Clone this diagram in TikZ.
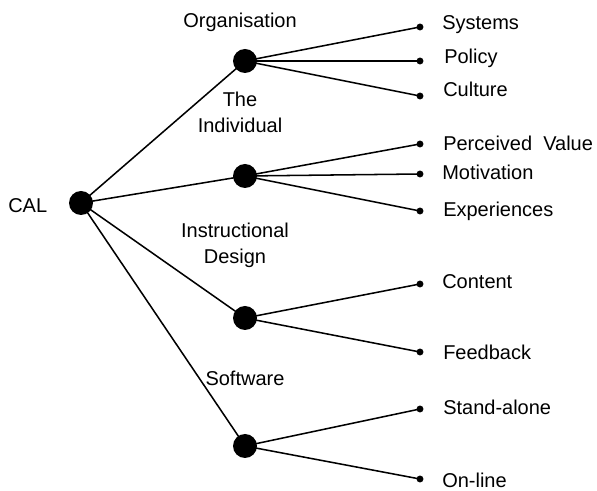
\documentclass[tikz,border=0pt]{standalone}
\usepackage{fontspec}
\setmainfont{Liberation Sans}
\usepackage{tikz}

\begin{document}
\begin{tikzpicture}[x=0.75pt,y=0.75pt,yscale=-1,xscale=1,
  hub/.style={circle,fill=black,inner sep=0pt,minimum size=18pt},
  leaf/.style={circle,fill=black,inner sep=0pt,minimum size=5.2pt},
  lbl/.style={inner sep=0pt,font=\fontsize{15}{19.5}\selectfont},
  branch/.style={line width=1.15pt}]

\useasboundingbox (0,0) rectangle (597,491);

% Hubs
\node [hub] (cal) at (81,203) {};
\node [hub] (org) at (245,61) {};
\node [hub] (ind) at (245,176) {};
\node [hub] (des) at (245,318) {};
\node [hub] (sw) at (245,446) {};

% Leaf dots
\node [leaf] (sys) at (420,27) {};
\node [leaf] (pol) at (420,61) {};
\node [leaf] (cul) at (420,96) {};
\node [leaf] (val) at (420,144) {};
\node [leaf] (mot) at (420,174) {};
\node [leaf] (exp) at (420,211) {};
\node [leaf] (con) at (420,284) {};
\node [leaf] (fee) at (420,352) {};
\node [leaf] (sta) at (420,409) {};
\node [leaf] (onl) at (420,479) {};

% Text Node
\node [lbl,anchor=base west] (calt) at (8,213) {CAL};
\node [lbl,anchor=base] (orgt) at (240,28) {Organisation};
\node [lbl,anchor=base,align=center] (indt) at (240,133) {The\\Individual};
\node [lbl,anchor=base,align=center] (dest) at (235,264) {Instructional\\Design};
\node [lbl,anchor=base] (swt) at (245,386) {Software};

\node [lbl,anchor=base west] (syst) at (442,30) {Systems};
\node [lbl,anchor=base west] (polt) at (444,64) {Policy};
\node [lbl,anchor=base west] (cult) at (443,97) {Culture};
\node [lbl,anchor=base west] (valt) at (443,151) {Perceived\ \ Value};
\node [lbl,anchor=base west] (mott) at (442,180) {Motivation};
\node [lbl,anchor=base west] (expt) at (443,217) {Experiences};
\node [lbl,anchor=base west] (cont) at (442,289) {Content};
\node [lbl,anchor=base west] (feet) at (443,360) {Feedback};
\node [lbl,anchor=base west] (stat) at (443,415) {Stand-alone};
\node [lbl,anchor=base west] (onlt) at (442,488) {On-line};

% Branches
\foreach \h in {org,ind,des,sw}
  \draw [branch] (cal.center) -- (\h.center);
\foreach \l in {sys,pol,cul}
  \draw [branch] (org.center) -- (\l.center);
\foreach \l in {val,mot,exp}
  \draw [branch] (ind.center) -- (\l.center);
\foreach \l in {con,fee}
  \draw [branch] (des.center) -- (\l.center);
\foreach \l in {sta,onl}
  \draw [branch] (sw.center) -- (\l.center);

\end{tikzpicture}
\end{document}
